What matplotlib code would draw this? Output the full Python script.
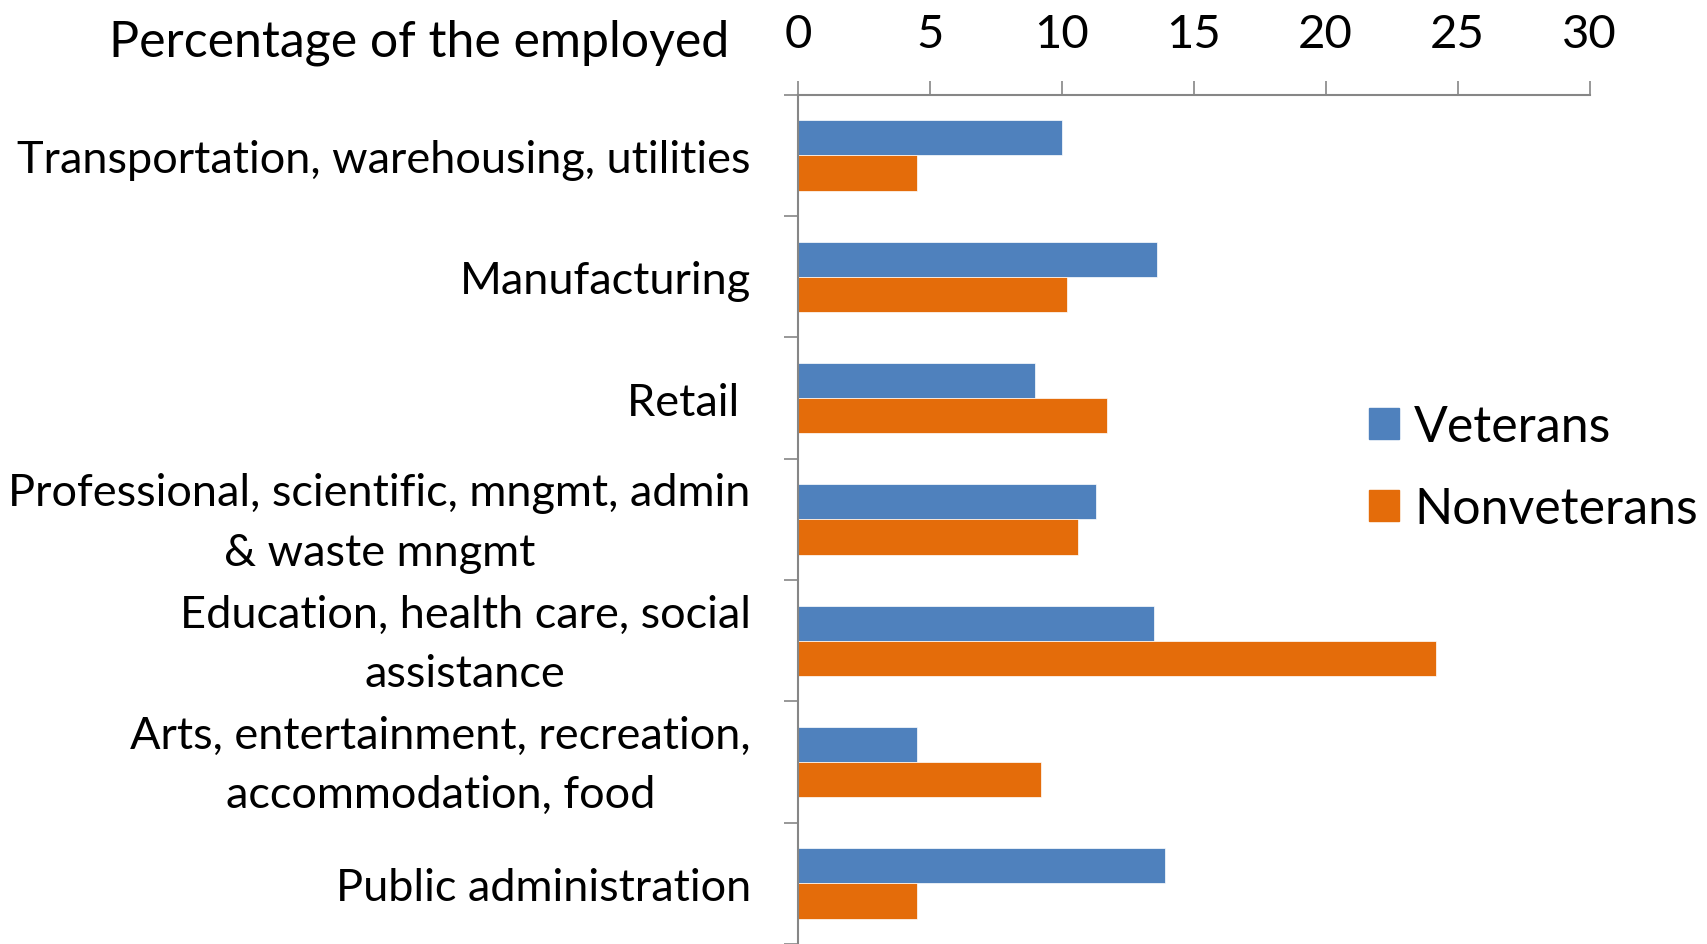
import matplotlib
matplotlib.use('Agg')
import matplotlib.pyplot as plt
from matplotlib.patches import Patch
from matplotlib.transforms import ScaledTranslation
import numpy as np

# industry categories, top to bottom
categories = [
    "Transportation, warehousing, utilities",
    "Manufacturing",
    "Retail ",
    "Professional, scientific, mngmt, admin\n& waste mngmt",
    "Education, health care, social\nassistance",
    "Arts, entertainment, recreation,\naccommodation, food",
    "Public administration",
]
veterans = [10.0, 13.6, 9.0, 11.3, 13.5, 4.5, 13.9]
nonveterans = [4.5, 10.2, 11.7, 10.6, 24.2, 9.2, 4.5]
series_names = ["Veterans", "Nonveterans"]
x_ticks = [0, 5, 10, 15, 20, 25, 30]

BLUE = '#4F81BD'
ORANGE = '#E46C0A'
GRAY = '#868686'

plt.rcParams['font.family'] = ['Lato', 'DejaVu Sans']
FS_CAT = 32.5
FS_TICK = 34
FS_BIG = 36

fig = plt.figure(figsize=(17.07, 9.45), dpi=100)
ax = fig.add_axes([798 / 1707, 0.0, (1589.5 - 798) / 1707, 1 - 95.8 / 945])

y = np.arange(len(categories))
h = 0.29
ax.barh(y - h / 2, veterans, height=h, color=BLUE, edgecolor='white', linewidth=0.5)
ax.barh(y + h / 2, nonveterans, height=h, color=ORANGE, edgecolor='white', linewidth=0.5)

ax.set_xlim(0, 30)
ax.set_ylim(len(categories) - 0.5, -0.5)

# x axis on top
ax.xaxis.tick_top()
ax.set_xticks(x_ticks)
ax.set_xticklabels([str(t) for t in x_ticks], fontsize=FS_TICK)
ax.tick_params(axis='x', direction='out', length=10, width=1.2, color=GRAY, pad=19)

# category labels, tick marks at category boundaries
ax.set_yticks(y)
ax.set_yticklabels(categories, fontsize=FS_CAT, multialignment='center', linespacing=1.55)
ax.set_yticks(np.arange(len(categories) + 1) - 0.5, minor=True)
ax.tick_params(axis='y', which='major', length=0, pad=34)
ax.tick_params(axis='y', which='minor', direction='out', length=10, width=1.2, color=GRAY)

# two-line labels sit a little higher in the original
lift = ScaledTranslation(0, 10 / 100, fig.dpi_scale_trans)
for lab in ax.get_yticklabels():
    if '\n' in lab.get_text():
        lab.set_transform(lab.get_transform() + lift)

for side in ['right', 'bottom']:
    ax.spines[side].set_visible(False)
for side in ['top', 'left']:
    ax.spines[side].set_color(GRAY)
    ax.spines[side].set_linewidth(1.5)

fig.text(729 / 1707, 1 - 56 / 945, "Percentage of the employed", ha='right',
         va='baseline', fontsize=FS_BIG)

handles = [Patch(color=BLUE), Patch(color=ORANGE)]
fig.legend(handles, series_names, loc='upper left', frameon=False, fontsize=FS_BIG,
           bbox_to_anchor=(1369 / 1707, 1 - 405 / 945), borderpad=0, borderaxespad=0,
           handlelength=0.6, handleheight=0.6, handletextpad=0.3, labelspacing=0.72)

fig.savefig('out.png', dpi=100)
